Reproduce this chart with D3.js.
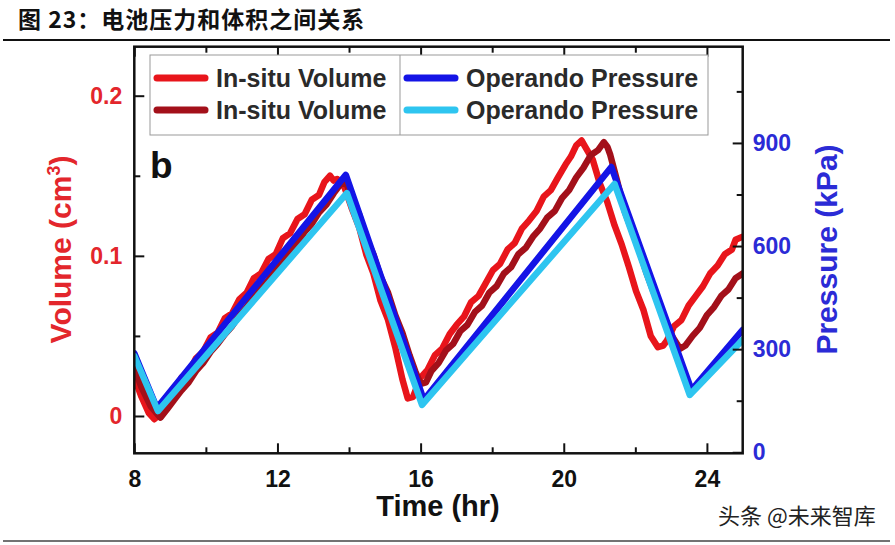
<!DOCTYPE html>
<html>
<head>
<meta charset="utf-8">
<script src="https://cdn.jsdelivr.net/npm/d3@7"></script>
<style>
body { margin: 0; background: #fff; }
svg { display: block; }
</style>
</head>
<body>
<div id="chart"></div>
<script>
// values
var redTime = [8.0,8.2,8.4,8.56,8.71,8.91,9.11,9.32,9.52,9.72,9.92,10.13,10.33,10.53,10.73,10.94,11.14,11.34,11.54,11.75,11.95,12.15,12.35,12.56,12.76,12.96,13.16,13.31,13.47,13.57,13.67,13.87,14.07,14.28,14.48,14.68,14.88,15.09,15.29,15.49,15.64,15.79,16.0,16.2,16.4,16.6,16.81,17.01,17.21,17.41,17.62,17.82,18.02,18.22,18.43,18.63,18.83,19.03,19.24,19.44,19.64,19.84,20.05,20.2,20.35,20.5,20.6,20.81,21.01,21.21,21.42,21.62,21.82,22.02,22.23,22.43,22.63,22.78,22.88,23.08,23.29,23.49,23.69,23.89,24.09,24.3,24.5,24.7,24.8,25.0];
var redVolume = [0.024,0.012,0.002,-0.002,0.001,0.008,0.014,0.024,0.027,0.036,0.040,0.049,0.052,0.061,0.064,0.073,0.077,0.086,0.089,0.098,0.101,0.111,0.114,0.123,0.126,0.135,0.138,0.146,0.150,0.147,0.148,0.143,0.130,0.118,0.101,0.089,0.072,0.060,0.043,0.023,0.011,0.012,0.024,0.029,0.038,0.042,0.051,0.057,0.062,0.071,0.075,0.083,0.091,0.095,0.104,0.108,0.117,0.122,0.128,0.137,0.141,0.149,0.157,0.162,0.169,0.172,0.168,0.160,0.145,0.134,0.119,0.107,0.093,0.078,0.066,0.050,0.043,0.044,0.047,0.056,0.060,0.069,0.075,0.081,0.089,0.094,0.101,0.104,0.110,0.112];

var darkTime = [8.0,8.2,8.46,8.73,8.91,9.11,9.32,9.52,9.72,9.92,10.13,10.33,10.53,10.73,10.94,11.14,11.34,11.54,11.75,11.95,12.15,12.35,12.56,12.76,12.96,13.16,13.37,13.57,13.77,13.92,14.07,14.28,14.48,14.68,14.88,15.09,15.29,15.49,15.69,15.85,16.0,16.15,16.3,16.5,16.71,16.91,17.11,17.31,17.52,17.72,17.92,18.12,18.33,18.53,18.73,18.94,19.14,19.34,19.54,19.75,19.95,20.15,20.35,20.55,20.76,20.96,21.12,21.22,21.3,21.5,21.7,21.9,22.1,22.3,22.5,22.7,22.9,23.05,23.25,23.4,23.6,23.8,24.0,24.2,24.4,24.6,24.8,25.0];
var darkVolume = [0.030,0.018,0.006,-0.001,0.004,0.010,0.016,0.021,0.028,0.033,0.040,0.045,0.051,0.056,0.063,0.068,0.075,0.080,0.085,0.092,0.096,0.103,0.108,0.115,0.120,0.127,0.132,0.139,0.145,0.146,0.136,0.126,0.111,0.101,0.087,0.077,0.063,0.052,0.038,0.028,0.020,0.021,0.028,0.033,0.041,0.045,0.053,0.057,0.065,0.069,0.077,0.081,0.089,0.093,0.101,0.105,0.112,0.117,0.124,0.128,0.136,0.141,0.149,0.155,0.163,0.166,0.171,0.168,0.163,0.146,0.128,0.116,0.104,0.090,0.078,0.068,0.057,0.049,0.042,0.044,0.050,0.055,0.063,0.068,0.075,0.079,0.086,0.089];

var blueTime = [8.0, 8.63, 13.91, 16.09, 21.33, 23.57, 25.0];
var bluePressure = [288, 129, 807, 152, 830, 181, 356];

var cyanTime = [8.0, 8.66, 13.94, 16.04, 21.42, 23.52, 25.0];
var cyanPressure = [280, 120, 754, 138, 781, 167, 327];

var timeTicks = [8, 12, 16, 20, 24];
var timeMinorTicks = [10, 14, 18, 22];
var volTicks = [0, 0.1, 0.2];
var volTickLabels = ["0", "0.1", "0.2"];
var volMinorTicks = [0.05, 0.15];
var presTicks = [0, 300, 600, 900];
var presMinorTicks = [150, 450, 750, 1050];

var legendLabels = ["In-situ Volume", "In-situ Volume", "Operando Pressure", "Operando Pressure"];
var seriesColors = ["#e8151b", "#a3101a", "#1414e6", "#2ec5f0"];

var width = 895;
var height = 545;
var plotLeft = 134.3, plotRight = 742.7, plotTop = 46.7, plotBottom = 453.3;
var font = "'Liberation Sans', Arial, sans-serif";

var svg = d3.select("#chart").append("svg")
    .attr("width", width)
    .attr("height", height);

// title bar
svg.append("text")
    .attr("x", 18)
    .attr("y", 28)
    .text("图 23：电池压力和体积之间关系")
    .style("font-family", "'Noto Sans CJK SC', sans-serif")
    .style("font-size", "23px")
    .style("font-weight", "bold")
    .style("letter-spacing", "1px")
    .attr("fill", "#111");

svg.append("line")
    .attr("x1", 3).attr("x2", 890)
    .attr("y1", 40).attr("y2", 40)
    .attr("stroke", "#111").attr("stroke-width", 2);

svg.append("line")
    .attr("x1", 3).attr("x2", 890)
    .attr("y1", 541).attr("y2", 541)
    .attr("stroke", "#444").attr("stroke-width", 1.5);

var x = d3.scaleLinear().domain([8, 25]).range([plotLeft, plotRight]);
var yVol = d3.scaleLinear().domain([-0.0233, 0.2306]).range([plotBottom, plotTop]);
var yPres = d3.scaleLinear().domain([-3, 1180]).range([plotBottom, plotTop]);

svg.append("clipPath").attr("id", "plot-clip")
    .append("rect")
    .attr("x", plotLeft).attr("y", plotTop)
    .attr("width", plotRight - plotLeft).attr("height", plotBottom - plotTop);

var series = [
    { time: redTime, values: redVolume, scale: yVol, color: seriesColors[0] },
    { time: darkTime, values: darkVolume, scale: yVol, color: seriesColors[1] },
    { time: blueTime, values: bluePressure, scale: yPres, color: seriesColors[2] },
    { time: cyanTime, values: cyanPressure, scale: yPres, color: seriesColors[3] }
];

var lines = svg.append("g").attr("clip-path", "url(#plot-clip)");

series.forEach(function(s) {
    var line = d3.line()
        .x(function(d) { return x(d[0]); })
        .y(function(d) { return s.scale(d[1]); });
    lines.append("path")
        .datum(d3.zip(s.time, s.values))
        .attr("d", line)
        .attr("fill", "none")
        .attr("stroke", s.color)
        .attr("stroke-width", 6.5)
        .attr("stroke-linejoin", "round")
        .attr("stroke-linecap", "round");
});

// frame
svg.append("rect")
    .attr("x", plotLeft).attr("y", plotTop)
    .attr("width", plotRight - plotLeft).attr("height", plotBottom - plotTop)
    .attr("fill", "none")
    .attr("stroke", "#111")
    .attr("stroke-width", 2.5);

function styleAxis(g, color) {
    g.select(".domain").remove();
    g.attr("font-family", font).attr("font-size", 23).attr("font-weight", "bold");
    g.selectAll(".tick line").attr("stroke", "#111").attr("stroke-width", 2);
    g.selectAll(".tick text").attr("fill", color);
}

svg.append("g")
    .attr("transform", "translate(0," + plotBottom + ")")
    .call(d3.axisBottom(x).tickValues(timeTicks).tickSize(-10).tickPadding(17).tickFormat(d3.format("d")))
    .call(styleAxis, "#111");
svg.append("g")
    .attr("transform", "translate(0," + plotBottom + ")")
    .call(d3.axisBottom(x).tickValues(timeMinorTicks).tickSize(-6).tickFormat(""))
    .call(styleAxis, "#111");
svg.append("g")
    .attr("transform", "translate(0," + plotTop + ")")
    .call(d3.axisTop(x).tickValues(timeTicks).tickSize(-10).tickFormat(""))
    .call(styleAxis, "#111");
svg.append("g")
    .attr("transform", "translate(0," + plotTop + ")")
    .call(d3.axisTop(x).tickValues(timeMinorTicks).tickSize(-6).tickFormat(""))
    .call(styleAxis, "#111");

svg.append("g")
    .attr("transform", "translate(" + plotLeft + ",0)")
    .call(d3.axisLeft(yVol).tickValues(volTicks).tickSize(-10).tickPadding(12)
        .tickFormat(function(d, i) { return volTickLabels[i]; }))
    .call(styleAxis, "#e3262c");
svg.append("g")
    .attr("transform", "translate(" + plotLeft + ",0)")
    .call(d3.axisLeft(yVol).tickValues(volMinorTicks).tickSize(-6).tickFormat(""))
    .call(styleAxis, "#e3262c");

svg.append("g")
    .attr("transform", "translate(" + plotRight + ",0)")
    .call(d3.axisRight(yPres).tickValues(presTicks).tickSize(-10).tickPadding(10).tickFormat(d3.format("d")))
    .call(styleAxis, "#2b2bd6");
svg.append("g")
    .attr("transform", "translate(" + plotRight + ",0)")
    .call(d3.axisRight(yPres).tickValues(presMinorTicks).tickSize(-6).tickFormat(""))
    .call(styleAxis, "#2b2bd6");

// axis titles
var volTitle = svg.append("text")
    .attr("transform", "translate(71,249.5) rotate(-90)")
    .attr("text-anchor", "middle")
    .style("font-family", font)
    .style("font-size", "30px")
    .style("font-weight", "bold")
    .attr("fill", "#e3262c");
volTitle.append("tspan").text("Volume (cm");
volTitle.append("tspan").text("3").attr("dy", -11).style("font-size", "18px");
volTitle.append("tspan").text(")").attr("dy", 11);

svg.append("text")
    .attr("transform", "translate(837,249.5) rotate(-90)")
    .attr("text-anchor", "middle")
    .text("Pressure (kPa)")
    .style("font-family", font)
    .style("font-size", "30px")
    .style("font-weight", "bold")
    .attr("fill", "#2b2bd6");

svg.append("text")
    .attr("x", 438)
    .attr("y", 516)
    .attr("text-anchor", "middle")
    .text("Time (hr)")
    .style("font-family", font)
    .style("font-size", "29px")
    .style("font-weight", "bold")
    .attr("fill", "#111");

svg.append("text")
    .attr("x", 150)
    .attr("y", 178)
    .text("b")
    .style("font-family", font)
    .style("font-size", "37px")
    .style("font-weight", "bold")
    .attr("fill", "#111");

// legend
var legend = svg.append("g").attr("class", "legend");
legend.append("rect")
    .attr("x", 150).attr("y", 55)
    .attr("width", 558).attr("height", 80)
    .attr("fill", "#fff")
    .attr("stroke", "#999")
    .attr("stroke-width", 1);
legend.append("line")
    .attr("x1", 400).attr("x2", 400)
    .attr("y1", 55).attr("y2", 135)
    .attr("stroke", "#999")
    .attr("stroke-width", 1);

var legendRows = [78, 110];
var legendLineX = [157, 407];
var legendTextX = [216, 466];

var items = legend.selectAll("g.item")
    .data(legendLabels)
    .enter().append("g")
    .attr("class", "item");

items.append("line")
    .attr("x1", function(d, i) { return legendLineX[Math.floor(i / 2)]; })
    .attr("x2", function(d, i) { return legendLineX[Math.floor(i / 2)] + 48; })
    .attr("y1", function(d, i) { return legendRows[i % 2]; })
    .attr("y2", function(d, i) { return legendRows[i % 2]; })
    .attr("stroke", function(d, i) { return seriesColors[i]; })
    .attr("stroke-width", 7)
    .attr("stroke-linecap", "round");

items.append("text")
    .attr("x", function(d, i) { return legendTextX[Math.floor(i / 2)]; })
    .attr("y", function(d, i) { return legendRows[i % 2]; })
    .attr("dy", "0.35em")
    .text(function(d) { return d; })
    .style("font-family", font)
    .style("font-size", "25px")
    .style("font-weight", "bold")
    .attr("fill", "#2a2a2a");

// watermark
svg.append("text")
    .attr("x", 718)
    .attr("y", 524)
    .text("头条 @未来智库")
    .style("font-family", "'Noto Sans CJK SC', sans-serif")
    .style("font-size", "22px")
    .attr("fill", "#222");
</script>
</body>
</html>
